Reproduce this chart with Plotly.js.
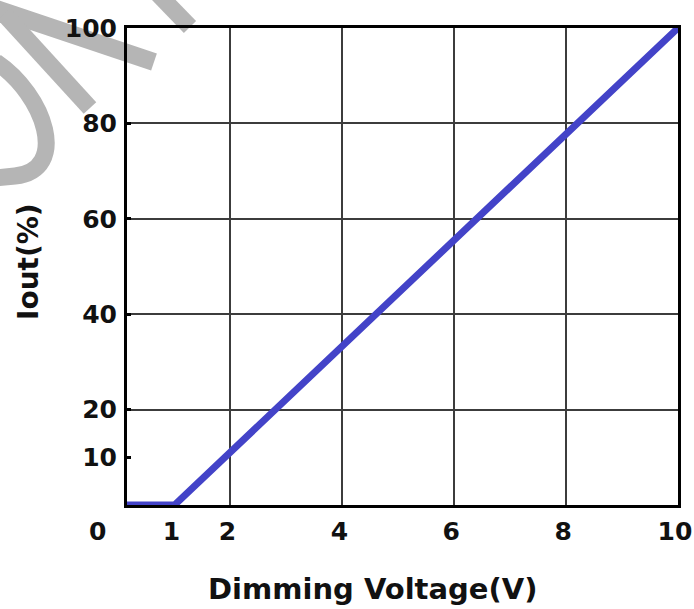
<!DOCTYPE html>
<html>
<head>
<meta charset="utf-8">
<script src="https://cdn.plot.ly/plotly-3.0.1.min.js"></script>
<style>
html,body{margin:0;padding:0;background:#fff;}
#chart{width:694px;height:609px;}
</style>
</head>
<body>
<div id="chart"></div>
<script>
// Data
const voltage = [0, 1, 10];
const iout = [0, 0, 100];

// Tick definitions
const xGridVals = [2, 4, 6, 8];
const xTickVals = [1, 2, 4, 6, 8, 10];
const xTickText = ['1', '2', '4', '6', '8', '10'];
const yGridVals = [20, 40, 60, 80];
const yTickVals = [10, 20, 40, 60, 80, 100];
const yTickText = ['10', '20', '40', '60', '80', '100'];
const cornerLabel = '0';
const xTitle = 'Dimming Voltage(V)';
const yTitle = 'Iout(%)';

const W = 694, H = 609;
const M = {l: 127, r: 16, t: 28, b: 104};
const pw = W - M.l - M.r, ph = H - M.t - M.b;
function px(x) { return (x - M.l) / pw; }
function py(y) { return (H - M.b - y) / ph; }
function pts(letter, arr) {
  let s = letter;
  for (let i = 0; i < arr.length; i += 2) s += ' ' + px(arr[i]).toFixed(4) + ',' + py(arr[i + 1]).toFixed(4);
  return s;
}

const font = 'DejaVu Sans, Verdana, sans-serif';
const tickFont = {family: font, size: 25, color: '#111', weight: 'bold'};
const wm = '#b5b5b5';

const traces = [
  {
    x: voltage, y: iout, type: 'scatter', mode: 'lines',
    line: {color: '#4343c8', width: 7},
    hoverinfo: 'skip', showlegend: false
  },
  {
    x: [5], y: [50], xaxis: 'x2', yaxis: 'y2', type: 'scatter', mode: 'markers',
    marker: {opacity: 0}, hoverinfo: 'skip', showlegend: false
  }
];

const layout = {
  width: W, height: H,
  margin: M,
  paper_bgcolor: '#fff', plot_bgcolor: '#fff',
  showlegend: false,
  xaxis: {
    range: [0.15, 10], tickvals: xGridVals, showticklabels: false,
    showgrid: true, gridcolor: '#3c3c3c', gridwidth: 2,
    zeroline: false, showline: true, mirror: true, linecolor: '#000', linewidth: 3,
    ticks: '', fixedrange: true
  },
  yaxis: {
    range: [0, 100], tickvals: yGridVals, showticklabels: false,
    showgrid: true, gridcolor: '#3c3c3c', gridwidth: 2,
    zeroline: false, showline: true, mirror: true, linecolor: '#000', linewidth: 3,
    ticks: '', fixedrange: true
  },
  xaxis2: {
    overlaying: 'x', anchor: 'y2', side: 'bottom',
    range: [0.15, 10], tickvals: xTickVals, ticktext: xTickText,
    showgrid: false, zeroline: false, showline: false, ticks: '',
    tickfont: tickFont, ticklabelstandoff: 9, ticklabelshift: -3,
    ticklabeloverflow: 'allow', fixedrange: true
  },
  yaxis2: {
    overlaying: 'y', anchor: 'x2', side: 'left',
    range: [0, 100], tickvals: yTickVals, ticktext: yTickText,
    showgrid: false, zeroline: false, showline: false,
    ticks: 'inside', ticklen: 4, tickwidth: 3, tickcolor: '#000',
    tickfont: tickFont, ticklabelstandoff: 9, ticklabeloverflow: 'allow', fixedrange: true
  },
  annotations: [
    {
      text: cornerLabel, xref: 'paper', yref: 'paper', x: px(97), y: py(531),
      showarrow: false, font: tickFont, xanchor: 'center', yanchor: 'middle'
    },
    {
      text: xTitle, xref: 'paper', yref: 'paper', x: px(372), y: py(589),
      showarrow: false, font: {family: font, size: 29, color: '#111', weight: 'bold'},
      xanchor: 'center', yanchor: 'middle'
    },
    {
      text: yTitle, xref: 'paper', yref: 'paper', x: px(28), y: py(262),
      showarrow: false, textangle: -90,
      font: {family: font, size: 28, color: '#111', weight: 'bold'},
      xanchor: 'center', yanchor: 'middle'
    }
  ],
  shapes: [
    {type: 'path', xref: 'paper', yref: 'paper', layer: 'below',
     path: pts('M', [-4, 9]) + ' ' + pts('L', [154, 62]), line: {color: wm, width: 18}},
    {type: 'path', xref: 'paper', yref: 'paper', layer: 'below',
     path: pts('M', [4, 14]) + ' ' + pts('L', [90, 108]), line: {color: wm, width: 17}},
    {type: 'path', xref: 'paper', yref: 'paper', layer: 'below',
     path: pts('M', [-4, 62]) + ' ' + pts('C', [45, 95, 70, 170, 15, 176]) + ' ' + pts('L', [-6, 178]),
     line: {color: wm, width: 17}},
    {type: 'path', xref: 'paper', yref: 'paper', layer: 'below',
     path: pts('M', [158, -6]) + ' ' + pts('L', [190, 27]), line: {color: wm, width: 17}}
  ]
};

Plotly.newPlot('chart', traces, layout, {staticPlot: true, displayModeBar: false});
</script>
</body>
</html>
